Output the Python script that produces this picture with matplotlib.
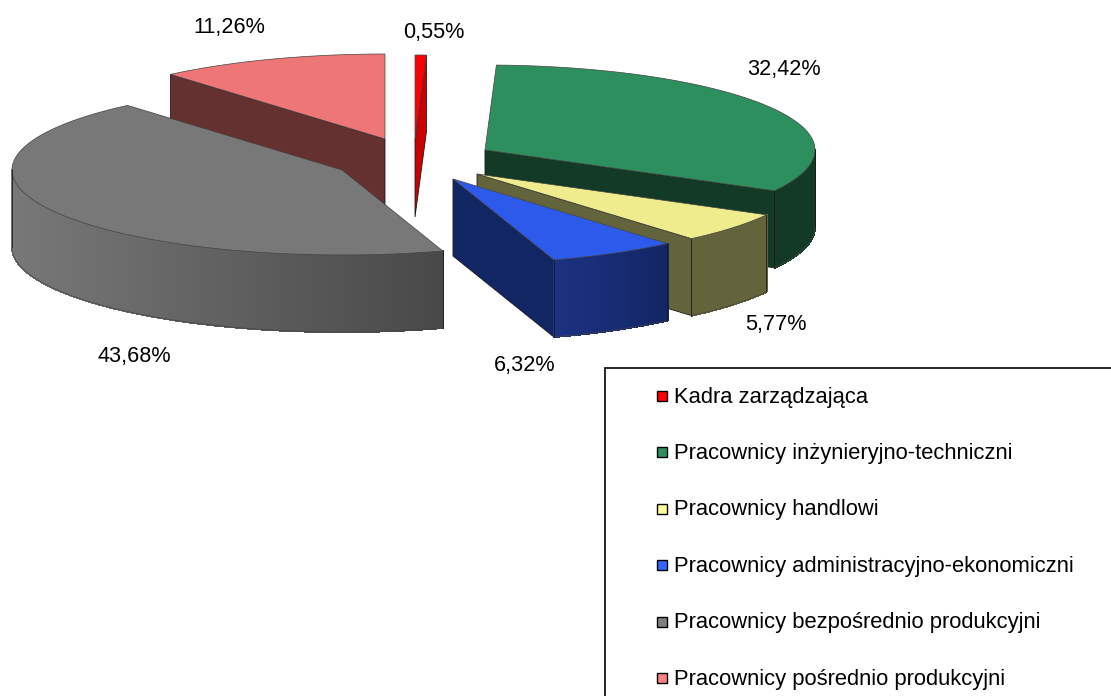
import numpy as np
import matplotlib
matplotlib.use('Agg')
import matplotlib.pyplot as plt
from matplotlib.colors import to_rgb
from matplotlib.patches import Rectangle

# dane z wykresu
kategorie = ['Kadra zarządzająca', 'Pracownicy inżynieryjno-techniczni', 'Pracownicy handlowi',
             'Pracownicy administracyjno-ekonomiczni', 'Pracownicy bezpośrednio produkcyjni',
             'Pracownicy pośrednio produkcyjni']
udzialy = [0.55, 32.42, 5.77, 6.32, 43.68, 11.26]
etykiety = ['0,55%', '32,42%', '5,77%', '6,32%', '43,68%', '11,26%']

# styl i uklad
kolor_gora = ['#ff0000', '#2e8f5e', '#eeec8c', '#2d5aeb', '#787878', '#ee7676']
kolor_sciana = ['#cc0000', '#123a26', '#64643c', '#122664', '#5a5a5a', '#643030']
luk_lewy = ['#cc0000', '#123a26', '#64643c', '#1c3282', '#787878', '#643030']
luk_prawy = ['#cc0000', '#123a26', '#64643c', '#122664', '#484848', '#643030']
kolor_legenda = ['#ff0000', '#2e8f5e', '#ffff99', '#3366ff', '#808080', '#ff8080']
wierzcholki = [(415, 140), (485, 150), (477, 174), (453, 179), (342, 170), (385, 139)]
poz_etykiet = [(434, 32.5), (784, 69.5), (776, 324.5), (525, 365.5), (134, 356.5), (229, 27.5)]
kolejnosc = [5, 0, 1, 2, 3, 4]
RX, RY, H = 330, 85, 77


def punkt(srodek, kat):
    # kat liczony od gory zgodnie z zegarem
    r = np.radians(kat)
    return srodek[0] + RX * np.sin(r), srodek[1] - RY * np.cos(r)


def sciana_radialna(ax, srodek, kat, kolor):
    x, y = punkt(srodek, kat)
    ax.fill([srodek[0], x, x, srodek[0]], [srodek[1], y, y + H, srodek[1] + H],
            facecolor=kolor, edgecolor='#1a1a1a', lw=0.6)


def sciana_luku(ax, srodek, a, b, lewy, prawy):
    # fragment zewnetrzny widoczny tylko od 90 do 270 stopni
    od, do = max(a, 90), min(b, 270)
    if od >= do:
        return
    katy = np.linspace(od, do, 140)
    xy = np.array([punkt(srodek, k) for k in katy])
    xmin, xmax = xy[:, 0].min(), xy[:, 0].max()
    c1, c2 = np.array(to_rgb(lewy)), np.array(to_rgb(prawy))
    for i in range(len(katy) - 1):
        x0, y0 = xy[i]
        x1, y1 = xy[i + 1]
        t = ((x0 + x1) / 2 - xmin) / max(xmax - xmin, 1)
        c = c1 + (c2 - c1) * t
        ax.fill([x0, x1, x1, x0], [y0, y1, y1 + H, y0 + H], facecolor=c, edgecolor=c, lw=0.8,
                antialiased=False)
    ax.plot(xy[:, 0], xy[:, 1] + H, color='#444444', lw=0.5)
    ax.plot([xy[0, 0]] * 2, [xy[0, 1], xy[0, 1] + H], color='#1a1a1a', lw=0.6)
    ax.plot([xy[-1, 0]] * 2, [xy[-1, 1], xy[-1, 1] + H], color='#1a1a1a', lw=0.6)


fig = plt.figure(figsize=(11.11, 6.96), dpi=100)
ax = fig.add_axes([0, 0, 1, 1])
ax.set_xlim(0, 1111)
ax.set_ylim(696, 0)
ax.axis('off')

granice = np.concatenate([[0], np.cumsum(udzialy)]) * 360 / sum(udzialy)

for i in kolejnosc:
    a, b = granice[i], granice[i + 1]
    s = wierzcholki[i]
    if a > 180:
        sciana_radialna(ax, s, a, kolor_sciana[i])
    if b < 180:
        sciana_radialna(ax, s, b, kolor_sciana[i])
    sciana_luku(ax, s, a, b, luk_lewy[i], luk_prawy[i])
    katy = np.linspace(a, b, 120)
    xy = np.array([punkt(s, k) for k in katy])
    ax.fill(np.r_[s[0], xy[:, 0]], np.r_[s[1], xy[:, 1]], facecolor=kolor_gora[i],
            edgecolor='#444444', lw=0.5)

for tekst, (x, y) in zip(etykiety, poz_etykiet):
    ax.text(x, y, tekst, ha='center', va='center', family='Liberation Sans', fontsize=15.6, color='black')

# legenda wychodzi poza kadr z prawej i z dolu
ax.add_patch(Rectangle((605, 367.5), 600, 400, facecolor='white', edgecolor='black', lw=1.2, zorder=5))
wiersze = np.linspace(396, 678, len(kategorie))
for nazwa, kolor, y in zip(kategorie, kolor_legenda, wiersze):
    ax.add_patch(Rectangle((657, y - 5), 10, 10, facecolor=kolor, edgecolor='black', lw=1, zorder=6))
    ax.text(673.5, y + 1, nazwa, ha='left', va='center', family='Liberation Sans', fontsize=15.8, color='black', zorder=6)

fig.savefig('out.png', dpi=100)
